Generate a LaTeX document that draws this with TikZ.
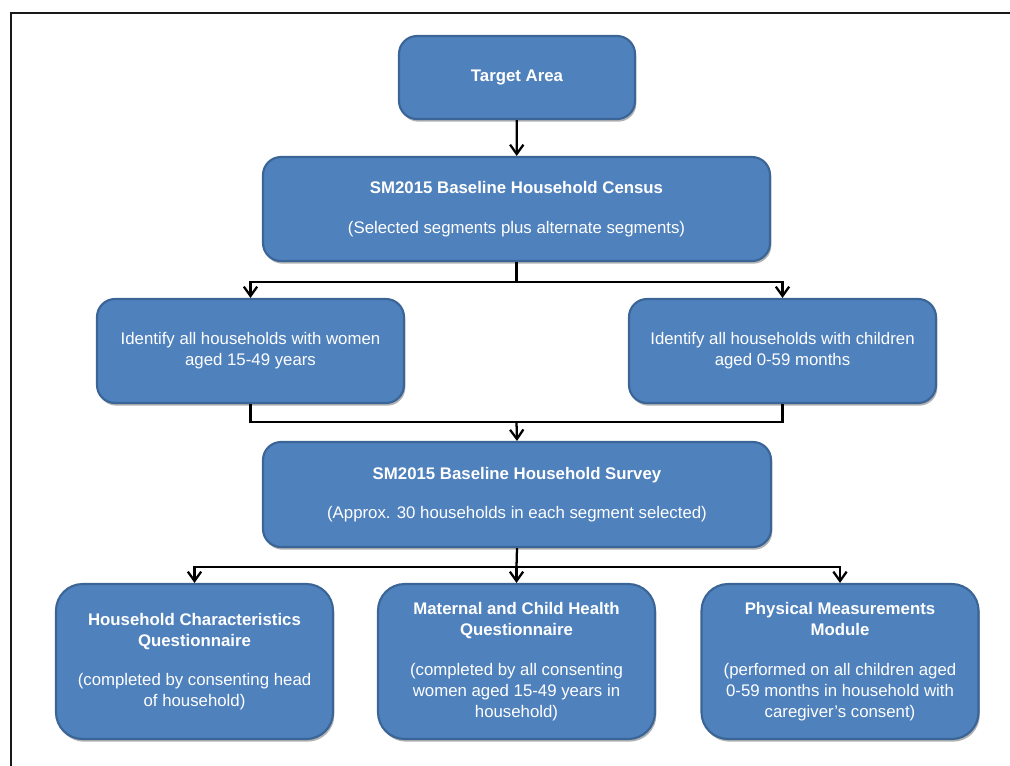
\documentclass[tikz,border=0pt]{standalone}
\usepackage{fontspec}
\setmainfont{Liberation Sans}
\usetikzlibrary{arrows.meta,shadows}
\definecolor{boxfill}{HTML}{4F81BD}
\definecolor{boxline}{HTML}{3A6596}
\begin{document}
\begin{tikzpicture}[x=0.75pt,y=-0.75pt,
  box/.style={draw=boxline, line width=1.6pt, fill=boxfill, rounded corners=13.5pt,
    text=white, align=center, inner sep=0pt,
    font=\fontsize{12.6}{15.75}\selectfont,
    drop shadow={shadow xshift=1pt, shadow yshift=-2pt, fill=black, opacity=0.3}},
  bigbox/.style={box, rounded corners=20pt, minimum width=207.75pt, minimum height=116.25pt},
  conn/.style={line width=1.7pt, black},
  arr/.style={conn, -{Straight Barb[length=7pt,width=10pt,line width=1.7pt]}}
]
\useasboundingbox (0,0) rectangle (1010,765);
\draw[line width=1.6pt, black!90] (11,766) -- (11,13) -- (1011,13);

\node[box, minimum width=177pt, minimum height=62.25pt] (target) at (517,77.5) {\textbf{Target Area}};
\node[box, minimum width=380.25pt, minimum height=78pt] (census) at (516.5,209)
  {\textbf{SM2015 Baseline Household Census}\\[14pt](Selected segments plus alternate segments)};
\node[box, minimum width=230.25pt, minimum height=78pt] (lid) at (250.5,351)
  {Identify all households with women\\aged 15-49 years};
\node[box, minimum width=230.25pt, minimum height=78pt] (rid) at (782.5,351)
  {Identify all households with children\\aged 0-59 months};
\node[box, minimum width=381pt, minimum height=78.75pt] (survey) at (517,494.5)
  {\textbf{SM2015 Baseline Household Survey}\\[14pt](Approx. 30 households in each segment selected)};
\node[bigbox] (hcq) at (194.5,661.5)
  {\textbf{Household Characteristics}\\\textbf{Questionnaire}\\[14pt](completed by consenting head\\of household)};
\node[bigbox] (mch) at (516.5,661.5)
  {\textbf{Maternal and Child Health}\\\textbf{Questionnaire}\\[14pt](completed by all consenting\\women aged 15-49 years in\\household)};
\node[bigbox] (pmm) at (840,661.5)
  {\textbf{Physical Measurements}\\\textbf{Module}\\[14pt](performed on all children aged\\0-59 months in household with\\caregiver's consent)};

\coordinate (j1) at (516.5,282);
\coordinate (j2) at (516.5,422);
\coordinate (j3) at (516.5,567);

\draw[arr] (target) -- (census);
\draw[conn] (census.south) -- (j1);
\draw[arr] (j1) -| (lid.north);
\draw[arr] (j1) -| (rid.north);
\draw[conn] (lid.south) |- (j2);
\draw[conn] (rid.south) |- (j2);
\draw[arr] (j2) -- (survey.north);
\draw[conn] (survey.south) -- (j3);
\draw[arr] (j3) -| (hcq.north);
\draw[arr] (j3) -- (mch.north);
\draw[arr] (j3) -| (pmm.north);
\end{tikzpicture}
\end{document}
